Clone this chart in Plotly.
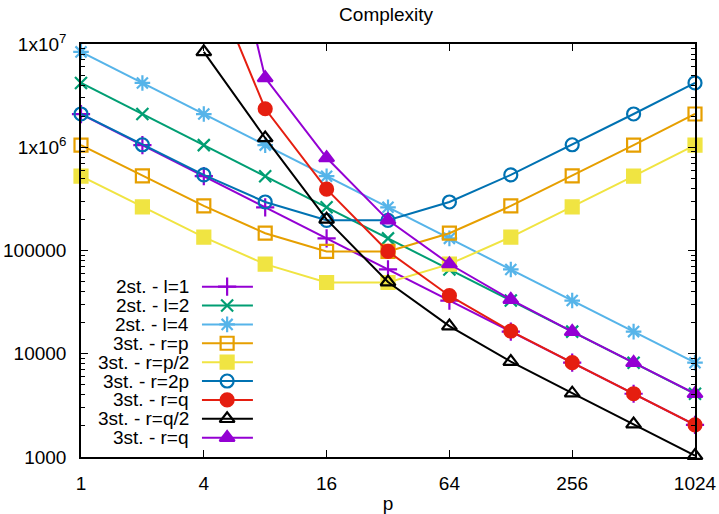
import plotly.graph_objects as go

# Processor counts
p = [1, 2, 4, 8, 16, 32, 64, 128, 256, 512, 1024]
p_from4 = [4, 8, 16, 32, 64, 128, 256, 512, 1024]

# Complexity per configuration
two_l1 = [2097152, 1048576, 524288, 262144, 131072, 65536, 32768, 16384, 8192, 4096, 2048]
two_l2 = [4194304, 2097152, 1048576, 524288, 262144, 131072, 65536, 32768, 16384, 8192, 4096]
two_l4 = [8388608, 4194304, 2097152, 1048576, 524288, 262144, 131072, 65536, 32768, 16384, 8192]
three_rp = [1050000, 528000, 270000, 147000, 98000, 98000, 147000, 270000, 528000, 1050000, 2100000]
three_rp2 = [525000, 264000, 135000, 73700, 49000, 49000, 73700, 135000, 264000, 525000, 1050000]
three_r2p = [2100000, 1057000, 540000, 295000, 196000, 196000, 295000, 540000, 1057000, 2100000, 4200000]
three_rq = [64000000, 2360000, 393000, 98000, 36500, 16600, 8200, 4100, 2050]
three_rq2 = [8400000, 1230000, 200000, 49500, 18500, 8400, 4150, 2080, 1030]
three_rq_b = [1500000000, 4700000, 790000, 197000, 74000, 33500, 16400, 8200, 4100]

series = [
    ("2st. - l=1", p, two_l1, "#9400d3", "cross-thin-open"),
    ("2st. - l=2", p, two_l2, "#009e73", "x-thin-open"),
    ("2st. - l=4", p, two_l4, "#56b4e9", "asterisk-open"),
    ("3st. - r=p", p, three_rp, "#e69f00", "square-open"),
    ("3st. - r=p/2", p, three_rp2, "#f0e442", "square"),
    ("3st. - r=2p", p, three_r2p, "#0072b2", "circle-open"),
    ("3st. - r=q", p_from4, three_rq, "#e51e10", "circle"),
    ("3st. - r=q/2", p_from4, three_rq2, "#000000", "triangle-up-open"),
    ("3st. - r=q", p_from4, three_rq_b, "#9400d3", "triangle-up"),
]

x_ticks = [1, 4, 16, 64, 256, 1024]
y_ticks = [1000, 10000, 100000, 1000000, 10000000]
y_tick_text = ["1000", "10000", "100000", "1x10<sup>6</sup>", "1x10<sup>7</sup>"]

FONT = "Liberation Sans, Arial, sans-serif"
FS = 19

SIZES = {"cross-thin-open": 13, "x-thin-open": 12, "asterisk-open": 13}

def msize(sym):
    return SIZES.get(sym, 13)

fig = go.Figure()
for name, xs, ys, color, sym in series:
    fig.add_trace(go.Scatter(
        x=xs, y=ys, mode="lines+markers", name=name, showlegend=False,
        line=dict(color=color, width=2),
        marker=dict(symbol=sym, size=msize(sym), color=color, line=dict(color=color, width=2.2)),
        cliponaxis=False,
    ))

# Key drawn inside the plot: right-aligned labels, sample line with marker
row0 = 0.4125
row_step = 0.0457
lx0, lx1, lxm = 0.197, 0.280, 0.238
for i, (name, xs, ys, color, sym) in enumerate(series):
    yy = row0 - i * row_step
    fig.add_trace(go.Scatter(
        x=[lx0, lx1], y=[yy, yy], mode="lines", xaxis="x2", yaxis="y2",
        line=dict(color=color, width=2), showlegend=False, hoverinfo="skip",
    ))
    fig.add_trace(go.Scatter(
        x=[lxm], y=[yy], mode="markers", xaxis="x2", yaxis="y2",
        marker=dict(symbol=sym, size=msize(sym), color=color, line=dict(color=color, width=2.2)),
        showlegend=False, hoverinfo="skip", cliponaxis=False,
    ))
    fig.add_annotation(
        x=0.1775, y=yy, xref="x2", yref="y2", text=name, showarrow=False,
        xanchor="right", yanchor="middle", borderpad=0,
        font=dict(family=FONT, size=FS, color="#000000"),
    )

fig.update_layout(
    width=719, height=514,
    margin=dict(l=81, r=24, t=44, b=57, autoexpand=False),
    paper_bgcolor="white", plot_bgcolor="white",
    font=dict(family=FONT, size=FS, color="#000000"),
    title=dict(text="Complexity", x=0.537, xanchor="center", y=0.972, yanchor="middle",
               automargin=False, font=dict(family=FONT, size=FS, color="#000000")),
    xaxis=dict(
        type="log", range=[0, 3.0103], tickvals=x_ticks, ticktext=[str(v) for v in x_ticks],
        ticks="inside", ticklen=7, tickwidth=1, tickcolor="#000000",
        showline=True, linecolor="#000000", linewidth=1.5, mirror="ticks",
        showgrid=False, zeroline=False, ticklabelstandoff=8, automargin=False,
        tickfont=dict(family=FONT, size=FS),
        title=dict(text="p", standoff=6, font=dict(family=FONT, size=FS)),
    ),
    yaxis=dict(
        type="log", range=[3, 7], tickvals=y_ticks, ticktext=y_tick_text,
        ticks="inside", ticklen=7, tickwidth=1, tickcolor="#000000",
        showline=True, linecolor="#000000", linewidth=1.5, mirror="ticks",
        showgrid=False, zeroline=False, ticklabelstandoff=9, automargin=False,
        tickfont=dict(family=FONT, size=FS),
        minor=dict(dtick="D1", ticks="inside", ticklen=4, tickcolor="#000000", showgrid=False),
    ),
    xaxis2=dict(overlaying="x", range=[0, 1], visible=False, fixedrange=True),
    yaxis2=dict(overlaying="y", range=[0, 1], visible=False, fixedrange=True),
)

fig.write_html("out.html")
